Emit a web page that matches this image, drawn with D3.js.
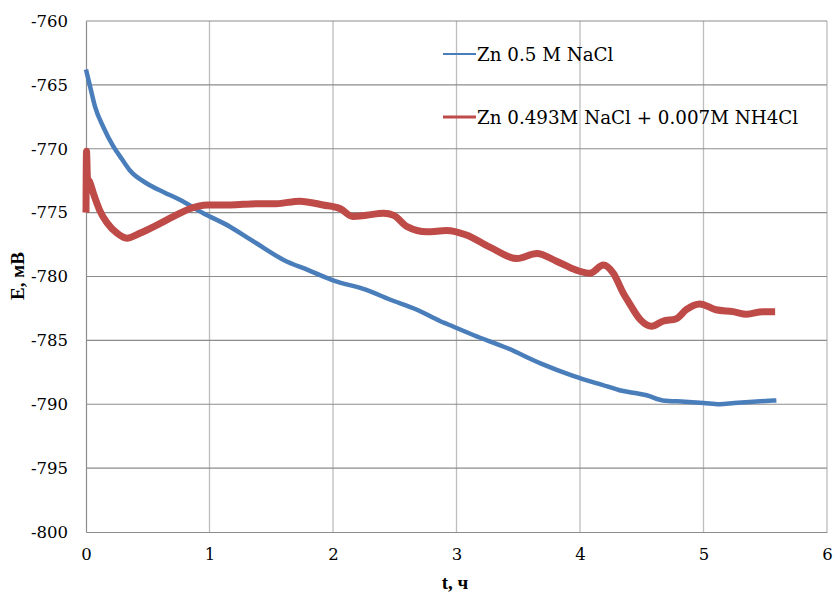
<!DOCTYPE html>
<meta charset="utf-8">
<style>
	body { margin: 0; background: #fff; }
</style>
<body>
<svg id="svg"></svg>
<script src="https://cdn.jsdelivr.net/npm/d3@7/dist/d3.min.js"></script>
<script>

// DATA
var xTicks = [0, 1, 2, 3, 4, 5, 6]
var yTicks = [-800, -795, -790, -785, -780, -775, -770, -765, -760]

var seriesNames = ["Zn 0.5 M NaCl", "Zn 0.493M NaCl + 0.007M NH4Cl"]

var naclT = [0, 0.03, 0.073, 0.14, 0.22, 0.29, 0.356, 0.49, 0.63, 0.76, 0.95, 1.166, 1.33, 1.38, 1.6, 1.8, 2.0, 2.27, 2.46, 2.68, 2.87, 2.92, 3.14, 3.41, 3.68, 3.95, 4.22, 4.32, 4.43, 4.54, 4.67, 4.85, 5.0, 5.13, 5.25, 5.40, 5.59]
var naclE = [-763.8, -765.0, -766.7, -768.3, -769.8, -770.8, -771.7, -772.7, -773.4, -774.0, -775.05, -776.1, -777.1, -777.4, -778.7, -779.5, -780.3, -781.05, -781.8, -782.6, -783.5, -783.7, -784.6, -785.6, -786.8, -787.8, -788.6, -788.9, -789.1, -789.3, -789.7, -789.8, -789.9, -790.0, -789.9, -789.8, -789.7]

var nh4T = [0, 0.004, 0.012, 0.03, 0.06, 0.11, 0.17, 0.25, 0.33, 0.44, 0.57, 0.71, 0.84, 0.98, 1.17, 1.38, 1.54, 1.73, 1.92, 2.06, 2.16, 2.27, 2.41, 2.49, 2.6, 2.76, 2.92, 3.08, 3.27, 3.49, 3.65, 3.81, 3.97, 4.08, 4.19, 4.27, 4.35, 4.40, 4.49, 4.58, 4.67, 4.78, 4.86, 4.97, 5.1, 5.24, 5.35, 5.48, 5.58]
var nh4E = [-775.0, -770.2, -772.3, -772.6, -773.5, -774.8, -775.8, -776.6, -777.0, -776.6, -776.0, -775.3, -774.7, -774.4, -774.4, -774.3, -774.3, -774.1, -774.4, -774.7, -775.3, -775.2, -775.05, -775.2, -776.1, -776.5, -776.4, -776.75, -777.7, -778.6, -778.2, -778.8, -779.5, -779.75, -779.1, -779.75, -781.3, -782.1, -783.4, -783.9, -783.5, -783.3, -782.6, -782.15, -782.6, -782.75, -782.95, -782.75, -782.75]

// CANVAS
var width = 833
var height = 594
var margin = { left: 86, right: 6, top: 21, bottom: 62 }
var serif = "'DejaVu Serif', serif"          // regular text
var serifBold = "'Liberation Serif', serif"  // bold titles

var svg = d3.select( '#svg' )
	.attr( 'width', width )
	.attr( 'height', height )

var x = d3.scaleLinear()
	.domain([ 0, 6 ])
	.range([ margin.left, width - margin.right ])

var y = d3.scaleLinear()
	.domain([ -800, -760 ])
	.range([ height - margin.bottom, margin.top ])

// GRID
svg.append( 'g' )
	.selectAll( 'line' )
	.data( xTicks.slice( 1 ))
	.enter()
	.append( 'line' )
		.attr( 'x1', d => x( d )).attr( 'x2', d => x( d ))
		.attr( 'y1', y( -760 )).attr( 'y2', y( -800 ))
		.attr( 'stroke', '#bdbdbd' )
		.attr( 'stroke-width', 1.3 )

svg.append( 'g' )
	.selectAll( 'line' )
	.data( yTicks.slice( 1 ))
	.enter()
	.append( 'line' )
		.attr( 'x1', x( 0 )).attr( 'x2', x( 6 ))
		.attr( 'y1', d => y( d )).attr( 'y2', d => y( d ))
		.attr( 'stroke', '#8c8c8c' )
		.attr( 'stroke-width', 1.2 )

// AXES
var xAxis = svg.append( 'g' )
	.attr( 'transform', 'translate(0,' + y( -800 ) + ')' )
	.call( d3.axisBottom( x ).tickValues( xTicks ).tickFormat( d => String( d )).tickSize( 0 ).tickPadding( 16 ))
xAxis.select( '.domain' ).attr( 'stroke', '#8c8c8c' ).attr( 'stroke-width', 1.2 )

var yAxis = svg.append( 'g' )
	.attr( 'transform', 'translate(' + x( 0 ) + ',0)' )
	.call( d3.axisLeft( y ).tickValues( yTicks ).tickFormat( d => String( d )).tickSize( 0 ).tickPadding( 18 ))
yAxis.select( '.domain' ).attr( 'stroke', '#8c8c8c' ).attr( 'stroke-width', 1.2 )

svg.selectAll( '.tick text' )
	.style( 'font-family', serif )
	.style( 'font-size', '16.5px' )
	.attr( 'fill', '#000' )

// axis titles
svg.append( 'text' )
	.attr( 'x', 455 )
	.attr( 'y', 589 )
	.attr( 'text-anchor', 'middle' )
	.style( 'font-family', serifBold )
	.style( 'font-size', '19px' )
	.style( 'font-weight', 'bold' )
	.text( 't, ч' )

svg.append( 'text' )
	.attr( 'transform', 'translate(24,' + 276 + ') rotate(-90)' )
	.attr( 'text-anchor', 'middle' )
	.style( 'font-family', serifBold )
	.style( 'font-size', '19px' )
	.style( 'font-weight', 'bold' )
	.text( 'E, мВ' )

// LINES
var line = d3.line()
	.x( d => x( d[ 0 ]))
	.y( d => y( d[ 1 ]))
	.curve( d3.curveMonotoneX )

svg.append( 'path' )
	.datum( d3.zip( naclT, naclE ))
	.attr( 'fill', 'none' )
	.attr( 'stroke', '#4a7ebb' )
	.attr( 'stroke-width', 4.5 )
	.attr( 'stroke-linejoin', 'round' )
	.attr( 'd', line )

svg.append( 'path' )
	.datum( d3.zip( nh4T, nh4E ))
	.attr( 'fill', 'none' )
	.attr( 'stroke', '#be4b48' )
	.attr( 'stroke-width', 7 )
	.attr( 'stroke-linejoin', 'round' )
	.attr( 'd', line )

// LEGEND
var legend = svg.append( 'g' )
var legendColors = [ '#4a7ebb', '#be4b48' ]
var legendWidths = [ 2, 3 ]
var legendY = [ 54, 117 ]

seriesNames.forEach(( name, i ) => {
	legend.append( 'line' )
		.attr( 'x1', 443 ).attr( 'x2', 476 )
		.attr( 'y1', legendY[ i ]).attr( 'y2', legendY[ i ])
		.attr( 'stroke', legendColors[ i ])
		.attr( 'stroke-width', legendWidths[ i ])
	legend.append( 'text' )
		.attr( 'x', 477 )
		.attr( 'y', legendY[ i ] + 7 )
		.style( 'font-family', serif )
		.style( 'font-size', '18.3px' )
		.text( name )
})

</script>
</body>
